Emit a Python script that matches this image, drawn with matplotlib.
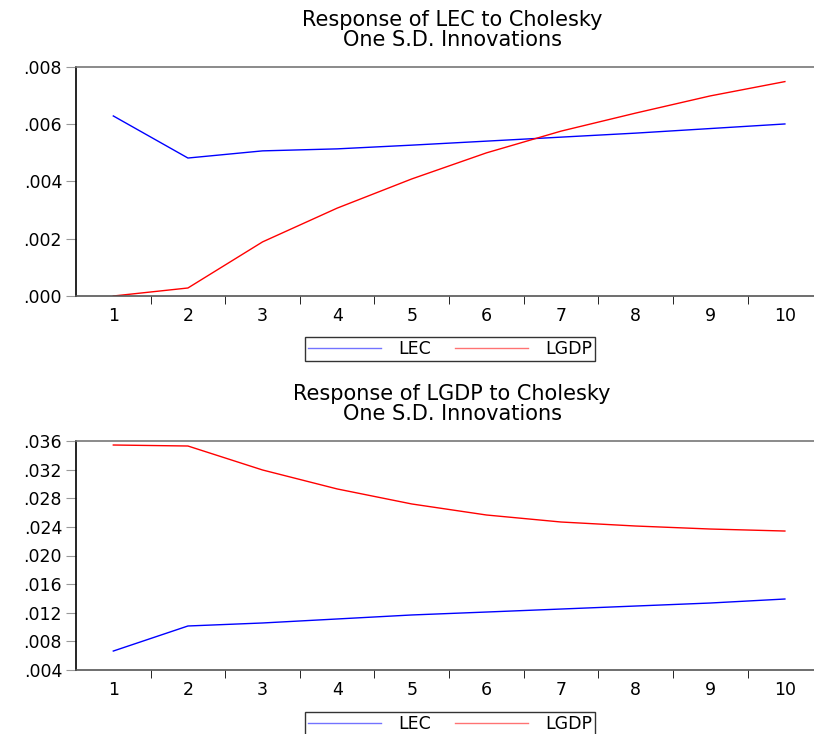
import numpy as np
import matplotlib
matplotlib.use("Agg")
import matplotlib.pyplot as plt
from matplotlib.ticker import FuncFormatter

plt.rcParams['font.family'] = ['DejaVu Sans']

periods = np.arange(1, 11)

# response of LEC
lec_lec = [0.00629, 0.00482, 0.00507, 0.00514, 0.00527, 0.00541, 0.00555, 0.00569, 0.00585, 0.00601]
lec_lgdp = [0.0, 0.00028, 0.00189, 0.00307, 0.00409, 0.00500, 0.00576, 0.00639, 0.00699, 0.00749]

# response of LGDP
lgdp_lec = [0.00665, 0.01015, 0.01057, 0.01113, 0.01169, 0.01210, 0.01252, 0.01294, 0.01336, 0.01392]
lgdp_lgdp = [0.03544, 0.03530, 0.03195, 0.02930, 0.02720, 0.02566, 0.02468, 0.02412, 0.02370, 0.02342]

panels = [
    ("Response of LEC to Cholesky\nOne S.D. Innovations", lec_lec, lec_lgdp,
     (0.0, 0.008), np.arange(0.0, 0.0081, 0.002)),
    ("Response of LGDP to Cholesky\nOne S.D. Innovations", lgdp_lec, lgdp_lgdp,
     (0.004, 0.036), np.arange(0.004, 0.0361, 0.004)),
]

W, H = 814, 734
fig = plt.figure(figsize=(W / 100, H / 100), dpi=100)

# axes boxes in pixels: left, top, bottom
boxes = [(76, 67, 296), (76, 441, 670)]
legend_y = [349, 724]


def fmt(v, pos):
    s = "%.3f" % v
    return s[1:] if s.startswith("0") else s


for (title, s_lec, s_lgdp, ylim, yticks), (left, top, bottom), ly in zip(panels, boxes, legend_y):
    ax = fig.add_axes([left / W, 1 - bottom / H, (W - left) / W, (bottom - top) / H])
    ax.plot(periods, s_lec, color='blue', lw=1.0, label='LEC')
    ax.plot(periods, s_lgdp, color='red', lw=1.0, label='LGDP')
    ax.set_xlim(0.5, 10.39)
    ax.set_ylim(*ylim)
    ax.set_yticks(yticks)
    ax.yaxis.set_major_formatter(FuncFormatter(fmt))
    ax.set_xticks(periods)
    ax.set_xticks(np.arange(1.5, 10.5, 1.0), minor=True)
    ax.tick_params(axis='x', which='major', length=0, labelsize=12.5, pad=8)
    ax.tick_params(axis='x', which='minor', length=6, color='black', direction='out')
    ax.tick_params(axis='y', length=7, color='#999999', direction='out', labelsize=12.5, pad=3)
    ax.spines['top'].set_color('#777777')
    ax.spines['right'].set_visible(False)
    ax.spines['left'].set_color('black')
    ax.spines['bottom'].set_color('#555555')
    ax.spines['left'].set_linewidth(1.2)
    ax.spines['bottom'].set_linewidth(1.2)
    ax.spines['top'].set_linewidth(1.2)

    fig.text(452 / W, 1 - (top - 37) / H, title, ha='center', va='center',
             fontsize=15, linespacing=1.0)

    leg = fig.legend(handles=ax.get_lines(), loc='center', bbox_to_anchor=(450 / W, 1 - ly / H),
                     ncol=2, frameon=True, fancybox=False, fontsize=12.5, handlelength=4.2,
                     columnspacing=1.4, borderpad=0.15, handletextpad=1.0, borderaxespad=0)
    leg.get_frame().set_edgecolor('black')
    leg.get_frame().set_linewidth(1.0)
    for line in leg.get_lines():
        line.set_alpha(0.55)

fig.savefig("out.png", dpi=100)
